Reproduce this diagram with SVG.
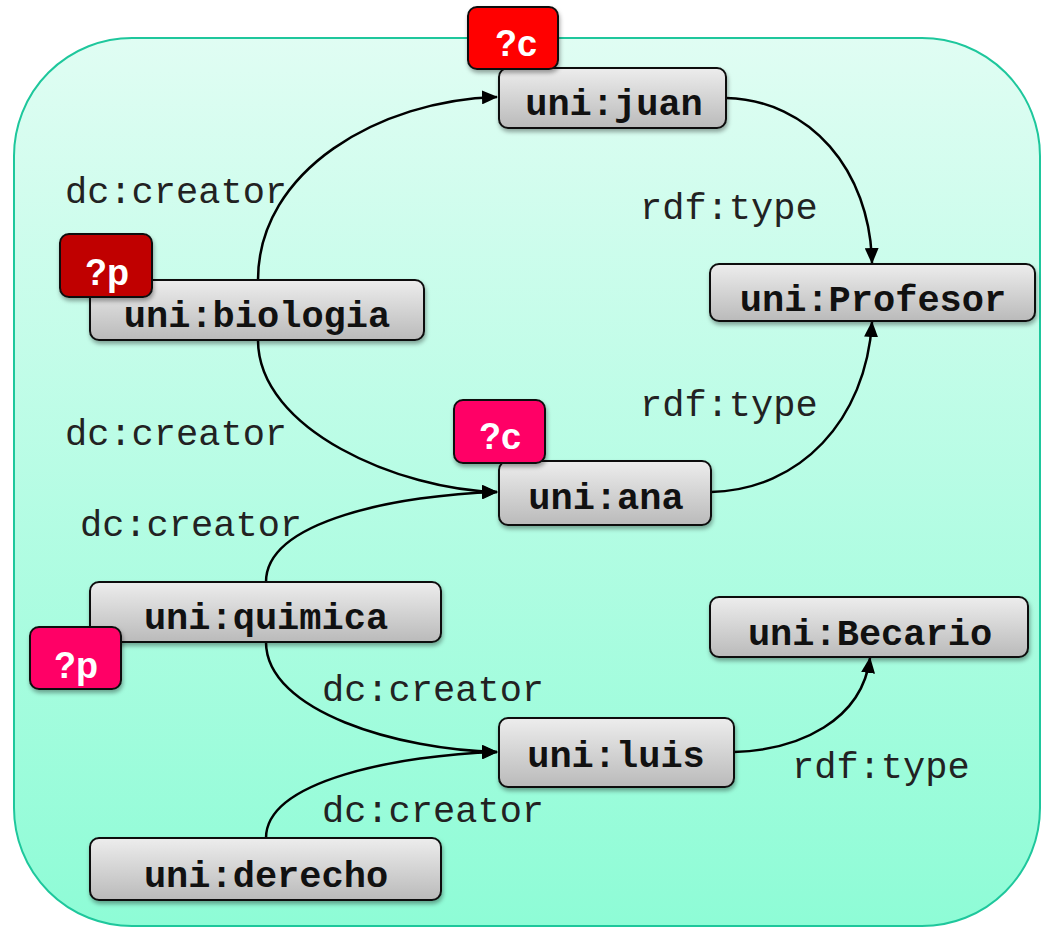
<svg xmlns="http://www.w3.org/2000/svg" width="1054" height="929" viewBox="0 0 1054 929">
<defs>
<linearGradient id="bg" x1="0" y1="0" x2="0" y2="1">
<stop offset="0" stop-color="#e0fdf3"/>
<stop offset="1" stop-color="#8efcd6"/>
</linearGradient>
<linearGradient id="ng" x1="0" y1="0" x2="0" y2="1">
<stop offset="0" stop-color="#ededed"/>
<stop offset="1" stop-color="#bababa"/>
</linearGradient>
<filter id="sh" x="-10%" y="-20%" width="120%" height="150%">
<feDropShadow dx="1" dy="3" stdDeviation="2" flood-color="#000" flood-opacity="0.35"/>
</filter>
<marker id="arr" viewBox="0 0 16 14" refX="15" refY="7" markerWidth="16" markerHeight="14" markerUnits="userSpaceOnUse" orient="auto">
<path d="M0,0 L16,7 L0,14 Z" fill="#000"/>
</marker>
<style>
.node{fill:url(#ng);stroke:#111;stroke-width:2;filter:url(#sh)}
.nt{font-family:"Liberation Mono","Courier New",monospace;font-weight:bold;font-size:37px;fill:#111;text-anchor:middle}
.lbl{font-family:"Liberation Mono","Courier New",monospace;font-size:37px;fill:#222}
.edge{fill:none;stroke:#000;stroke-width:2.5;marker-end:url(#arr)}
.badge{stroke:#111;stroke-width:2;filter:url(#sh)}
.bt{font-family:"Liberation Sans",Arial,sans-serif;font-weight:bold;font-size:36px;fill:#fff;text-anchor:middle}
</style>
</defs>
<rect x="14" y="38" width="1026" height="888" rx="118" ry="118" fill="url(#bg)" stroke="#1ec79c" stroke-width="2"/>
<g id="connectors">
<path class="edge" d="M258,280 C258,170 380,100 497,97"/>
<path class="edge" d="M726,98 C810,100 870,170 872,263"/>
<path class="edge" d="M258,340 C258,430 400,490 497,492"/>
<path class="edge" d="M711,492 C800,490 866,420 872,322"/>
<path class="edge" d="M266,582 C266,520 400,495 497,492"/>
<path class="edge" d="M266,642 C266,712 400,750 497,752"/>
<path class="edge" d="M266,838 C266,780 400,755 497,752"/>
<path class="edge" d="M734,752 C800,750 862,720 870,658"/>
</g>
<g id="labels">
<text class="lbl" x="65" y="203">dc:creator</text>
<text class="lbl" x="640" y="219">rdf:type</text>
<text class="lbl" x="640" y="416">rdf:type</text>
<text class="lbl" x="65" y="445">dc:creator</text>
<text class="lbl" x="80" y="536">dc:creator</text>
<text class="lbl" x="322" y="701">dc:creator</text>
<text class="lbl" x="792" y="778">rdf:type</text>
<text class="lbl" x="322" y="822">dc:creator</text>
</g>
<g id="n-juan"><rect class="node" x="499" y="68" width="227" height="60" rx="9"/><text class="nt" x="614" y="115">uni:juan</text></g>
<g id="n-profesor"><rect class="node" x="710" y="264" width="325" height="57" rx="9"/><text class="nt" x="873" y="311">uni:Profesor</text></g>
<g id="n-biologia"><rect class="node" x="90" y="280" width="334" height="60" rx="9"/><text class="nt" x="257" y="327">uni:biologia</text></g>
<g id="n-ana"><rect class="node" x="499" y="461" width="212" height="64" rx="9"/><text class="nt" x="606" y="509">uni:ana</text></g>
<g id="n-quimica"><rect class="node" x="90" y="582" width="351" height="60" rx="9"/><text class="nt" x="266" y="629">uni:quimica</text></g>
<g id="n-becario"><rect class="node" x="710" y="597" width="318" height="60" rx="9"/><text class="nt" x="870" y="645">uni:Becario</text></g>
<g id="n-luis"><rect class="node" x="499" y="718" width="235" height="69" rx="9"/><text class="nt" x="616" y="767">uni:luis</text></g>
<g id="n-derecho"><rect class="node" x="90" y="838" width="351" height="62" rx="9"/><text class="nt" x="266" y="887">uni:derecho</text></g>
<g id="b-c1"><rect class="badge" x="468" y="7" width="90" height="62" rx="9" fill="#ff0000"/><text class="bt" x="516" y="56">?c</text></g>
<g id="b-p1"><rect class="badge" x="60" y="234" width="92" height="63" rx="9" fill="#c00000"/><text class="bt" x="107" y="285">?p</text></g>
<g id="b-c2"><rect class="badge" x="454" y="400" width="91" height="63" rx="9" fill="#ff0066"/><text class="bt" x="500" y="449">?c</text></g>
<g id="b-p2"><rect class="badge" x="30" y="627" width="91" height="62" rx="9" fill="#ff0066"/><text class="bt" x="76" y="678">?p</text></g>
</svg>
